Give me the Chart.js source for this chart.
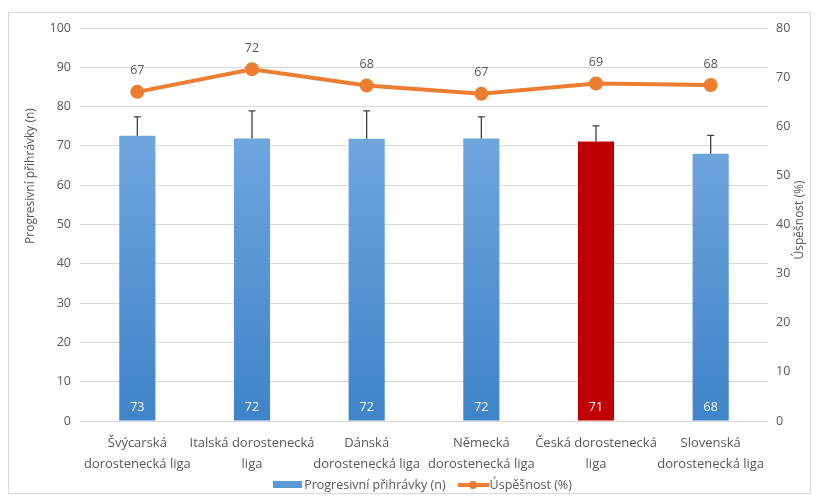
<!DOCTYPE html>
<html>
<head>
<meta charset="utf-8">
<script src="https://cdn.jsdelivr.net/npm/chart.js@4/dist/chart.umd.min.js"></script>
<style>
  html, body { margin: 0; padding: 0; background: #fff; }
  #wrap { position: relative; width: 819px; height: 498px; overflow: hidden; }
  #frame { position: absolute; left: 8px; top: 12px; width: 803px; height: 482px; border: 1px solid #d9d9d9; box-sizing: border-box; }
  #chart { position: absolute; left: 0; top: 0; }
  #legend { position: absolute; left: 0; width: 819px; top: 476px; display: flex; justify-content: center; align-items: center;
            font-family: "Open Sans", "Noto Sans", sans-serif; font-size: 12.5px; color: #595959; padding-left: 26px; box-sizing: border-box; }
  .item { display: flex; align-items: center; margin: 0 6px; }
  .swatch-bar { width: 29px; height: 7px; background: #5b9bd5; margin-right: 2px; }
  .swatch-line { position: relative; width: 31px; height: 4px; background: #ed7d31; margin-right: 1px; }
  .swatch-line::after { content: ""; position: absolute; left: 11px; top: -2px; width: 8px; height: 8px; border-radius: 50%; background: #ed7d31; }
</style>
</head>
<body>
<div id="wrap">
  <div id="frame"></div>
  <canvas id="chart" width="819" height="498"></canvas>
  <div id="legend">
    <div class="item"><span class="swatch-bar"></span><span>Progresivní přihrávky (n)</span></div>
    <div class="item"><span class="swatch-line"></span><span>Úspěšnost (%)</span></div>
  </div>
</div>
<script>
// data
const categories = [
    ['Švýcarská', 'dorostenecká liga'],
    ['Italská dorostenecká', 'liga'],
    ['Dánská', 'dorostenecká liga'],
    ['Německá', 'dorostenecká liga'],
    ['Česká dorostenecká', 'liga'],
    ['Slovenská', 'dorostenecká liga']
];
const passes = [72.6, 71.9, 71.8, 71.9, 71.1, 68.0];
const passesSD = [4.8, 7.0, 7.1, 5.5, 4.0, 4.7];
const success = [67.0, 71.6, 68.3, 66.6, 68.7, 68.4];
const highlightIndex = 4;

const leftTicks = { min: 0, max: 100, step: 10 };
const rightTicks = { min: 0, max: 80, step: 10 };
const leftTitle = 'Progresivní přihrávky (n)';
const rightTitle = 'Úspěšnost (%)';

const FONT = '"Open Sans", "Noto Sans", sans-serif';
const GREY = '#595959';

function barFill(context) {
    if (context.dataIndex === highlightIndex) return '#c00000';
    const chart = context.chart;
    const area = chart.chartArea;
    if (!area) return '#5b9bd5';
    const g = chart.ctx.createLinearGradient(0, area.top + 100, 0, area.bottom);
    g.addColorStop(0, '#70a7de');
    g.addColorStop(1, '#3f83c8');
    return g;
}

function verticalText(ctx, text, x, y) {
    ctx.save();
    ctx.translate(x, y);
    ctx.rotate(-Math.PI / 2);
    ctx.fillText(text, 0, 0);
    ctx.restore();
}

// error bars (upper part only), value labels, axis titles
const extrasPlugin = {
    id: 'extras',
    afterDatasetsDraw(chart) {
        const ctx = chart.ctx;
        const y = chart.scales.y;
        const bars = chart.getDatasetMeta(1).data;
        const pts = chart.getDatasetMeta(0).data;
        ctx.save();
        ctx.strokeStyle = '#404040';
        ctx.lineWidth = 1.3;
        bars.forEach((bar, i) => {
            const top = y.getPixelForValue(passes[i]);
            const end = y.getPixelForValue(passes[i] + passesSD[i]);
            ctx.beginPath();
            ctx.moveTo(bar.x, top);
            ctx.lineTo(bar.x, end);
            ctx.moveTo(bar.x - 3.5, end);
            ctx.lineTo(bar.x + 3.5, end);
            ctx.stroke();
        });
        ctx.font = '12.5px ' + FONT;
        ctx.textAlign = 'center';
        ctx.textBaseline = 'middle';
        ctx.fillStyle = '#ffffff';
        bars.forEach((bar, i) => {
            ctx.fillText(String(Math.round(passes[i])), bar.x, y.getPixelForValue(0) - 14);
        });
        ctx.fillStyle = GREY;
        pts.forEach((p, i) => {
            ctx.fillText(String(Math.round(success[i])), p.x, p.y - 21);
        });
        ctx.font = '12px ' + FONT;
        verticalText(ctx, leftTitle, 31, 176);
        verticalText(ctx, rightTitle, 800, 220);
        ctx.restore();
    }
};

const ctx = document.getElementById('chart').getContext('2d');

new Chart(ctx, {
    data: {
        labels: categories,
        datasets: [
            {
                type: 'line',
                label: 'Úspěšnost (%)',
                data: success,
                yAxisID: 'y2',
                borderColor: '#ed7d31',
                backgroundColor: '#ed7d31',
                borderWidth: 4,
                pointRadius: 5,
                pointHoverRadius: 5,
                tension: 0,
                order: 0
            },
            {
                type: 'bar',
                label: 'Progresivní přihrávky (n)',
                data: passes,
                yAxisID: 'y',
                backgroundColor: barFill,
                barPercentage: 0.315,
                categoryPercentage: 1,
                order: 1
            }
        ]
    },
    options: {
        responsive: false,
        animation: false,
        layout: { padding: { top: 28, bottom: 10, left: 0, right: 8 } },
        plugins: {
            legend: { display: false },
            tooltip: { enabled: false }
        },
        scales: {
            x: {
                grid: { display: false },
                border: { display: false },
                ticks: { color: GREY, font: { family: FONT, size: 13, lineHeight: 1.6 }, maxRotation: 0, autoSkip: false, padding: 4 },
                afterFit(scale) { scale.height = 67; }
            },
            y: {
                position: 'left',
                min: leftTicks.min,
                max: leftTicks.max,
                ticks: { stepSize: leftTicks.step, color: GREY, font: { family: FONT, size: 12.5 }, padding: 9 },
                grid: { color: '#d9d9d9', drawTicks: false },
                border: { display: false },
                afterFit(scale) { scale.width = 80; }
            },
            y2: {
                position: 'right',
                min: rightTicks.min,
                max: rightTicks.max,
                ticks: { stepSize: rightTicks.step, color: GREY, font: { family: FONT, size: 12.5 }, padding: 8 },
                grid: { display: false, drawTicks: false },
                border: { display: false },
                afterFit(scale) { scale.width = 43; }
            }
        }
    },
    plugins: [extrasPlugin]
});
</script>
</body>
</html>
